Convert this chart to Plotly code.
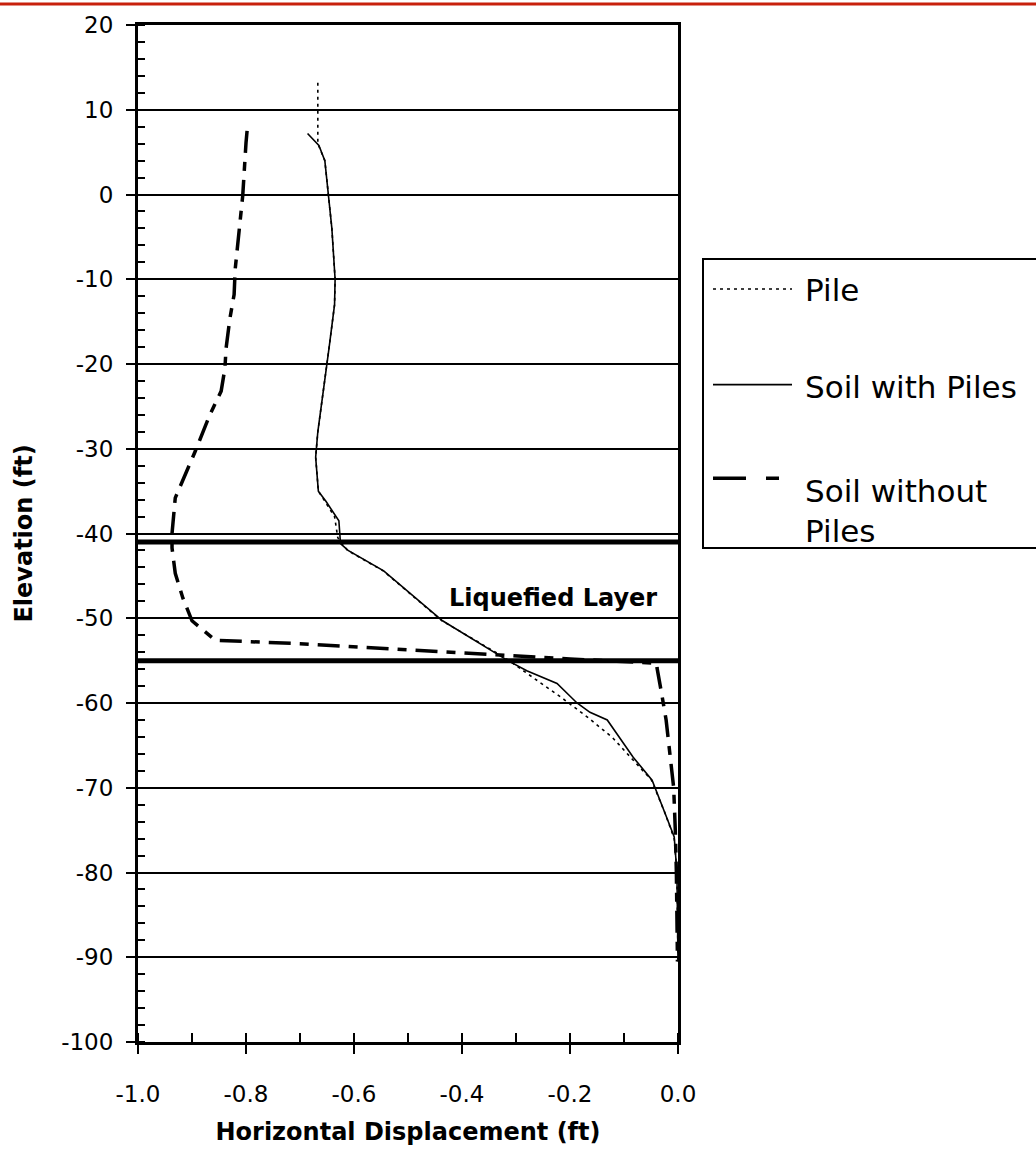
import plotly.graph_objects as go

# ---------------- data ----------------
pile_elev = [13.2, 6.0, 4.0, 0.0, -4.0, -10.0, -13.0, -18.0, -23.0, -28.0, -31.0, -35.0,
             -38.0, -40.5, -42.0, -44.4, -47.0, -50.3, -54.6, -57.3, -59.3, -61.8, -64.1,
             -66.6, -69.1, -73.0, -76.0, -80.0, -90.5]
pile_disp = [-0.667, -0.667, -0.654, -0.648, -0.641, -0.635, -0.636, -0.646, -0.656, -0.667,
             -0.671, -0.666, -0.636, -0.630, -0.612, -0.546, -0.498, -0.437, -0.322, -0.262,
             -0.217, -0.165, -0.121, -0.085, -0.049, -0.024, -0.007, -0.002, 0.0]

soil_with_elev = [7.2, 5.8, 4.0, 0.0, -4.0, -10.0, -13.0, -18.0, -23.0, -28.0, -31.0, -35.0,
                  -36.2, -37.7, -38.5, -41.2, -42.0, -44.4, -47.0, -50.3, -55.0, -56.2, -57.7,
                  -60.0, -61.1, -62.0, -66.4, -69.1, -73.0, -75.8, -80.0, -90.5]
soil_with_disp = [-0.686, -0.665, -0.654, -0.648, -0.641, -0.635, -0.636, -0.646, -0.656, -0.667,
                  -0.671, -0.666, -0.652, -0.636, -0.628, -0.625, -0.611, -0.545, -0.497, -0.436,
                  -0.315, -0.280, -0.224, -0.187, -0.163, -0.131, -0.083, -0.048, -0.024, -0.007,
                  -0.002, 0.0]

soil_without_elev = [7.5, 6.1, -0.1, -4.8, -8.8, -11.8, -14.7, -18.2, -20.5, -23.2, -26.0, -30.3,
                     -33.0, -35.8, -40.0, -41.7, -44.7, -47.6, -50.3, -52.6, -53.0, -53.6, -54.3,
                     -54.8, -55.3, -55.8, -59.0, -62.0, -66.0, -70.0, -75.0, -80.0, -90.5]
soil_without_disp = [-0.798, -0.800, -0.806, -0.813, -0.820, -0.822, -0.830, -0.837, -0.839, -0.846,
                     -0.867, -0.894, -0.913, -0.931, -0.937, -0.937, -0.931, -0.917, -0.900, -0.857,
                     -0.700, -0.540, -0.350, -0.200, -0.040, -0.039, -0.030, -0.022, -0.015,
                     -0.008, -0.005, -0.003, -0.001]

layer_top = -41.0
layer_bottom = -55.0
layer_label = "Liquefied Layer"
layer_label_pos = (-0.231, -47.6)

x_tick_vals = [-1.0, -0.8, -0.6, -0.4, -0.2, 0.0]
x_tick_text = ["-1.0", "-0.8", "-0.6", "-0.4", "-0.2", "0.0"]
y_tick_vals = [20, 10, 0, -10, -20, -30, -40, -50, -60, -70, -80, -90, -100]
y_tick_text = ["20", "10", "0", "-10", "-20", "-30", "-40", "-50", "-60", "-70", "-80", "-90", "-100"]

series_names = ["Pile", "Soil with Piles", "Soil without Piles"]
legend_labels = ["Pile", "Soil with Piles", "Soil without<br>Piles"]

# ---------------- styles ----------------
FONT = "DejaVu Sans"
pile_line = dict(color="black", width=1.6, dash="3px,4px")
with_line = dict(color="black", width=1.6)
without_line = dict(color="black", width=3.5, dash="22px,9px,9px,9px")

fig = go.Figure()
fig.add_trace(go.Scatter(x=pile_disp, y=pile_elev, mode="lines", name=series_names[0],
                         line=pile_line, showlegend=False))
fig.add_trace(go.Scatter(x=soil_with_disp, y=soil_with_elev, mode="lines", name=series_names[1],
                         line=with_line, showlegend=False))
fig.add_trace(go.Scatter(x=soil_without_disp, y=soil_without_elev, mode="lines", name=series_names[2],
                         line=without_line, showlegend=False))

shapes = []
# liquefied layer boundaries
for yb in (layer_top, layer_bottom):
    shapes.append(dict(type="line", xref="paper", yref="y", x0=0, x1=1, y0=yb, y1=yb,
                       line=dict(color="black", width=5), layer="above"))

# manual legend (box + samples)
W, H = 1036, 1153
L, R, T, B = 138, 358, 22, 110
pw, ph = W - L - R, H - T - B


def px_x(p):
    return (p - L) / pw


def px_y(p):
    return (H - B - p) / ph


shapes.append(dict(type="rect", xref="paper", yref="paper",
                   x0=px_x(703), x1=px_x(1060), y0=px_y(547), y1=px_y(257),
                   line=dict(color="black", width=2), fillcolor="white", layer="below"))
sample_styles = [dict(color="black", width=1.6, dash="3px,4px"),
                 dict(color="black", width=1.6),
                 dict(color="black", width=3.5, dash="33px,20px,13px,20px")]
sample_y = [287, 383, 477]
for st, sy in zip(sample_styles, sample_y):
    shapes.append(dict(type="line", xref="paper", yref="paper",
                       x0=px_x(713), x1=px_x(792), y0=px_y(sy), y1=px_y(sy), line=st))

# thin red strip at the top of the page
shapes.append(dict(type="line", xref="paper", yref="paper", x0=px_x(0), x1=px_x(1036),
                   y0=px_y(1), y1=px_y(1), line=dict(color="#c8200c", width=3)))

annotations = [
    dict(x=layer_label_pos[0], y=layer_label_pos[1], xref="x", yref="y",
         text="<b>" + layer_label + "</b>", showarrow=False,
         font=dict(family=FONT, size=24, color="black"), xanchor="center", yanchor="middle"),
]
legend_text_y = [288, 385, 510]
for txt, ty in zip(legend_labels, legend_text_y):
    annotations.append(dict(x=px_x(803), y=px_y(ty), xref="paper", yref="paper", text=txt,
                            showarrow=False, xanchor="left", yanchor="middle", align="left",
                            font=dict(family=FONT, size=31, color="black")))

fig.update_layout(
    width=W, height=H,
    margin=dict(l=L, r=R, t=T, b=B, pad=0),
    paper_bgcolor="white", plot_bgcolor="white",
    showlegend=False,
    font=dict(family=FONT, color="black"),
    shapes=shapes,
    annotations=annotations,
)

fig.update_xaxes(
    range=[-1.0, 0.0], tickvals=x_tick_vals, ticktext=x_tick_text,
    ticks="outside", ticklen=9, tickwidth=2, tickcolor="black",
    ticklabelstandoff=20,
    minor=dict(dtick=0.1, ticks="inside", ticklen=9, tickwidth=1.5, tickcolor="black", showgrid=False),
    showgrid=False, zeroline=False,
    showline=True, linecolor="black", linewidth=3, mirror=True,
    tickfont=dict(family=FONT, size=23, color="black"),
    title=dict(text="<b>Horizontal Displacement (ft)</b>", standoff=18,
               font=dict(family=FONT, size=24, color="black")),
)
fig.update_yaxes(
    range=[-100, 20], tickvals=y_tick_vals, ticktext=y_tick_text,
    ticks="outside", ticklen=9, tickwidth=2, tickcolor="black",
    ticklabelstandoff=8,
    minor=dict(dtick=2, ticks="inside", ticklen=7, tickwidth=1.5, tickcolor="black", showgrid=False),
    showgrid=True, gridcolor="black", gridwidth=1.5, zeroline=False,
    showline=True, linecolor="black", linewidth=3, mirror=True,
    tickfont=dict(family=FONT, size=23, color="black"),
    title=dict(text="<b>Elevation (ft)</b>", standoff=22,
               font=dict(family=FONT, size=24, color="black")),
)

fig.write_html("out.html")
